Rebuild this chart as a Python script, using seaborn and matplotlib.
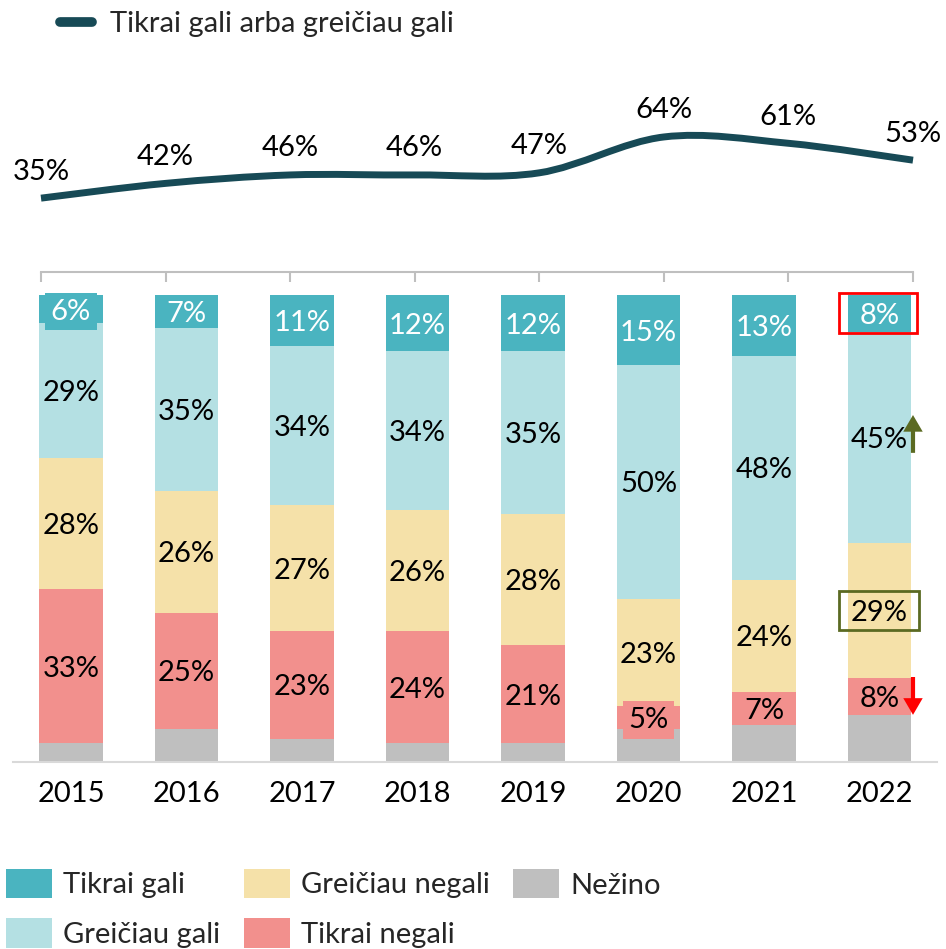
import numpy as np
import pandas as pd
import matplotlib
matplotlib.use("Agg")
import matplotlib.pyplot as plt
import seaborn as sns
from matplotlib.path import Path
from matplotlib.patches import PathPatch, Patch, Rectangle
from matplotlib.lines import Line2D

# ---------------- data ----------------
years = ["2015", "2016", "2017", "2018", "2019", "2020", "2021", "2022"]
tikrai_gali = [6, 7, 11, 12, 12, 15, 13, 8]
greiciau_gali = [29, 35, 34, 34, 35, 50, 48, 45]
greiciau_negali = [28, 26, 27, 26, 28, 23, 24, 29]
tikrai_negali = [33, 25, 23, 24, 21, 5, 7, 8]
nezino = [4, 7, 5, 4, 4, 7, 8, 10]
gali_total = [35, 42, 46, 46, 47, 64, 61, 53]

line_label = "Tikrai gali arba greičiau gali"
legend_order = ["Tikrai gali", "Greičiau gali", "Greičiau negali", "Tikrai negali", "Nežino"]

# ---------------- style ----------------
sns.set_style("white")
FONT = ["Lato", "DejaVu Sans"]
plt.rcParams["font.family"] = FONT
F = 21

colors = {
    "Tikrai gali": "#4AB4C0",
    "Greičiau gali": "#B4E0E3",
    "Greičiau negali": "#F5E1A9",
    "Tikrai negali": "#F2908D",
    "Nežino": "#BFBFBF",
}
line_color = "#174A56"
olive = "#5B6A22"

W, H = 946, 949
fig = plt.figure(figsize=(W / 100, H / 100), dpi=100)

# ---------------- bar chart ----------------
df = pd.DataFrame({
    "year": years,
    "Tikrai gali": tikrai_gali,
    "Greičiau gali": greiciau_gali,
    "Greičiau negali": greiciau_negali,
    "Tikrai negali": tikrai_negali,
    "Nežino": nezino,
})
stack = ["Nežino", "Tikrai negali", "Greičiau negali", "Greičiau gali", "Tikrai gali"]  # bottom -> top
cum = df[stack].cumsum(axis=1)

ax = fig.add_axes([13.25 / W, (H - 762) / H, 924 / W, 467 / H])
BW = 0.554
for name in reversed(stack):
    sns.barplot(x=df["year"], y=cum[name], color=colors[name], width=BW,
                saturation=1, errorbar=None, linewidth=0, edgecolor="none", ax=ax)
ax.set_xlim(-0.5, len(years) - 0.5)
ax.set_ylim(0, 100)
ax.set_xlabel("")
ax.set_ylabel("")
ax.set_yticks([])
for s in ["left", "right", "top"]:
    ax.spines[s].set_visible(False)
ax.spines["bottom"].set_color("#D9D9D9")
ax.spines["bottom"].set_linewidth(1.5)
ax.set_xticks(range(len(years)))
ax.set_xticklabels(years, fontsize=F)
ax.tick_params(axis="x", length=0, pad=14, colors="black")

# segment labels (small segments get a label box that spills over the segment)
for i in range(len(years)):
    for name in stack[1:]:
        val = df.loc[i, name]
        top = cum.loc[i, name]
        yc = top - val / 2
        box = dict(boxstyle="square,pad=0.2", fc=colors[name], ec="none") if val <= 6 else None
        ax.text(i, yc, f"{val}%", ha="center", va="center_baseline", fontsize=F,
                color="white" if name == "Tikrai gali" else "black",
                bbox=box, zorder=5)

# 2022 highlights
i22 = len(years) - 1
top_val = tikrai_gali[i22]
ax.add_patch(Rectangle((i22 - 0.35, 100 - top_val - 0.1), 0.675, top_val + 0.5,
                       fill=False, ec="red", lw=2, zorder=6, clip_on=False))
gn_center = nezino[i22] + tikrai_negali[i22] + greiciau_negali[i22] / 2
ax.add_patch(Rectangle((i22 - 0.35, gn_center - 4.15), 0.69, 8.3,
                       fill=False, ec=olive, lw=2, zorder=6, clip_on=False))
ax.annotate("", xy=(i22 + 0.29, 74.3), xytext=(i22 + 0.29, 66.2),
            arrowprops=dict(width=3, headwidth=14, headlength=12, color=olive, lw=0),
            zorder=7, annotation_clip=False)
ax.annotate("", xy=(i22 + 0.29, 10.1), xytext=(i22 + 0.29, 18.2),
            arrowprops=dict(width=3, headwidth=14, headlength=12, color="red", lw=0),
            zorder=7, annotation_clip=False)

# ---------------- line chart ----------------
ax2 = fig.add_axes([41 / W, (H - 272) / H, 872 / W, 211 / H])
ax2.set_xlim(0, len(years) - 1)
ax2.set_ylim(0, 100)
ax2.patch.set_visible(False)
for s in ["left", "right", "top"]:
    ax2.spines[s].set_visible(False)
ax2.spines["bottom"].set_color("#BFBFBF")
ax2.spines["bottom"].set_linewidth(1.5)
ax2.set_xticks(range(len(years)))
ax2.set_xticklabels([])
ax2.set_yticks([])
ax2.tick_params(axis="x", bottom=True, direction="out", length=7.2, width=1.5,
                color="#BFBFBF")

xs = np.arange(len(years), dtype=float)
ys = np.array(gali_total, dtype=float)
P = np.column_stack([xs, ys])
n = len(P)
verts = [P[0]]
codes = [Path.MOVETO]
for k in range(n - 1):
    p0 = P[k - 1] if k > 0 else P[k]
    p1, p2 = P[k], P[k + 1]
    p3 = P[k + 2] if k + 2 < n else P[k + 1]
    verts += [p1 + (p2 - p0) / 6, p2 - (p3 - p1) / 6, p2]
    codes += [Path.CURVE4] * 3
ax2.add_patch(PathPatch(Path(verts, codes), fill=False, ec=line_color, lw=5,
                        capstyle="butt", joinstyle="round", clip_on=False))
for x, v in zip(xs, gali_total):
    ax2.annotate(f"{v}%", (x, v), xytext=(0, 29), textcoords="offset pixels",
                 ha="center", va="center_baseline", fontsize=F, color="black",
                 annotation_clip=False)

# ---------------- legends ----------------
fig.legend(handles=[Line2D([0], [0], color=line_color, lw=7, solid_capstyle="round")],
           labels=[line_label], loc="center left",
           bbox_to_anchor=(60 / W, 1 - 24 / H), frameon=False, borderpad=0,
           borderaxespad=0, handlelength=23 / F, handletextpad=13 / F, fontsize=F)

handles = [Patch(facecolor=colors[nm], edgecolor="none") for nm in legend_order]
fig.legend(handles=handles, labels=legend_order, loc="upper left",
           bbox_to_anchor=(6 / W, 1 - 869 / H), ncol=3, frameon=False, borderpad=0,
           borderaxespad=0, handlelength=33 / F, handleheight=24.5 / F,
           handletextpad=8 / F, columnspacing=17 / F, labelspacing=0.68, fontsize=F)

fig.savefig("out.png", dpi=100)
